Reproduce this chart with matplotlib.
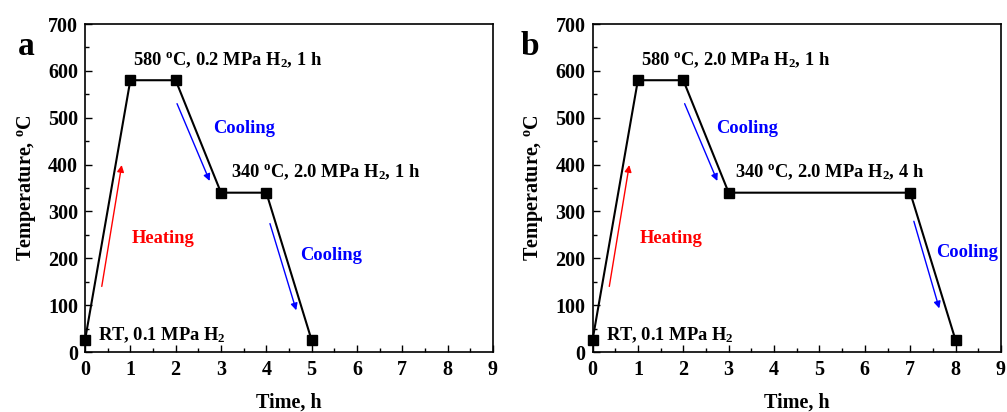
import matplotlib

matplotlib.use("Agg")

import matplotlib.pyplot as plt
from matplotlib.ticker import MultipleLocator

plt.rcParams.update(
    {
        "font.family": "Liberation Serif",
        "font.weight": "bold",
        "axes.labelweight": "bold",
        "mathtext.fontset": "custom",
        "mathtext.rm": "Liberation Serif:bold",
        "mathtext.it": "Liberation Serif:bold:italic",
        "mathtext.bf": "Liberation Serif:bold",
        "axes.linewidth": 1.2,
        "xtick.direction": "in",
        "ytick.direction": "in",
        "xtick.major.size": 5,
        "ytick.major.size": 5,
        "xtick.minor.size": 3,
        "ytick.minor.size": 3,
        "xtick.major.width": 1.0,
        "ytick.major.width": 1.0,
        "xtick.minor.width": 1.0,
        "ytick.minor.width": 1.0,
    }
)

# heat-treatment schedules (time in h, temperature in degC)
time_a = [0, 1, 2, 3, 4, 5]
temp_a = [25, 580, 580, 340, 340, 25]
time_b = [0, 1, 2, 3, 7, 8]
temp_b = [25, 580, 580, 340, 340, 25]

step1_a = r"580 $^\mathrm{o}$C, 0.2 MPa H$_2$, 1 h"
step1_b = r"580 $^\mathrm{o}$C, 2.0 MPa H$_2$, 1 h"
step2_a = r"340 $^\mathrm{o}$C, 2.0 MPa H$_2$, 1 h"
step2_b = r"340 $^\mathrm{o}$C, 2.0 MPa H$_2$, 4 h"
start_txt = r"RT, 0.1 MPa H$_2$"

W, H = 1007, 412
fig = plt.figure(figsize=(W / 100, H / 100), dpi=100, facecolor="white")
ax_a = fig.add_axes([85 / W, 60 / H, 408 / W, 328 / H])
ax_b = fig.add_axes([592.5 / W, 60 / H, 408.5 / W, 328 / H])


def arrow(ax, start, end, color):
    ax.annotate(
        "",
        xy=end,
        xytext=start,
        arrowprops=dict(arrowstyle="-|>", color=color, lw=1.0,
                        shrinkA=0, shrinkB=0, mutation_scale=10),
    )


def panel(ax, t, T, label, label_x, s1, s2, s1x, s2x, cool1, cool2_arrow, cool2_txt):
    ax.plot(t, T, "-s", color="black", lw=1.5, ms=6.5, clip_on=False, zorder=3)
    ax.set_xlim(0, 9)
    ax.set_ylim(0, 700)
    ax.xaxis.set_major_locator(MultipleLocator(1))
    ax.xaxis.set_minor_locator(MultipleLocator(0.5))
    ax.yaxis.set_major_locator(MultipleLocator(100))
    ax.yaxis.set_minor_locator(MultipleLocator(50))
    ax.tick_params(labelsize=14.5)
    ax.tick_params(axis="x", pad=6)
    ax.tick_params(axis="y", pad=5)
    ax.set_xlabel("Time, h", fontsize=14.5, labelpad=8.5)
    ax.set_ylabel(r"Temperature, $^\mathrm{o}$C", fontsize=14.5, labelpad=7.5)

    fs = 13.3
    ax.text(s1x, 622, s1, fontsize=fs, va="center")
    ax.text(s2x, 384, s2, fontsize=fs, va="center")
    ax.text(0.29, 36, start_txt, fontsize=fs, va="center")
    ax.text(1.03, 243, "Heating", color="red", fontsize=fs, va="center")
    ax.text(cool1, 477, "Cooling", color="blue", fontsize=fs, va="center")
    ax.text(cool2_txt[0], cool2_txt[1], "Cooling", color="blue", fontsize=fs, va="center")

    arrow(ax, (0.37, 140), (0.81, 399), "red")
    arrow(ax, (2.03, 530), (2.75, 365), "blue")
    arrow(ax, cool2_arrow[0], cool2_arrow[1], "blue")

    ax.text(label_x, 0.93, label, transform=ax.transAxes, fontsize=24,
            ha="center", va="center")


panel(ax_a, time_a, temp_a, "a", -0.143, step1_a, step2_a, 1.05, 3.22, 2.83,
      ((4.08, 274), (4.66, 89)), (4.75, 205))
panel(ax_b, time_b, temp_b, "b", -0.153, step1_b, step2_b, 1.07, 3.15, 2.72,
      ((7.08, 279), (7.64, 93)), (7.56, 213))

fig.savefig("out.png", dpi=100, facecolor="white")
